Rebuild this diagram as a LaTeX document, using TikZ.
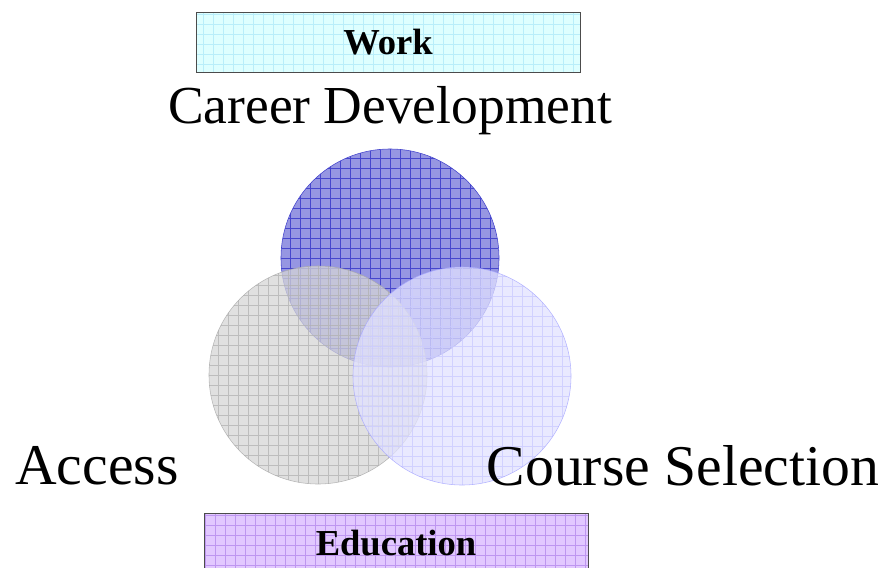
\documentclass[tikz,border=0pt]{standalone}
\usepackage{fontspec}
\setmainfont{Liberation Serif}
\definecolor{workfill}{RGB}{222,255,255}
\definecolor{workgrid}{RGB}{185,238,250}
\definecolor{edufill}{RGB}{226,200,255}
\definecolor{edugrid}{RGB}{190,150,240}
\definecolor{careerfill}{RGB}{150,150,226}
\definecolor{careergrid}{RGB}{70,70,205}
\definecolor{accessfill}{RGB}{214,214,214}
\definecolor{accessgrid}{RGB}{178,178,178}
\definecolor{coursefill}{RGB}{226,226,255}
\definecolor{coursegrid}{RGB}{202,202,255}
\begin{document}
\begin{tikzpicture}[x=0.025cm,y=-0.025cm,
  ring/.style={circle,minimum size=5.45cm,inner sep=0pt},
  gridfill/.style={path picture={\draw[#1,line width=0.5pt,step=0.25cm]
    (path picture bounding box.south west) grid (path picture bounding box.north east);}},
  bigtext/.style={font=\fontsize{41}{48}\selectfont},
  tagbox/.style={draw=black!70,minimum width=9.6cm,minimum height=1.5cm,inner sep=0pt,
    font=\fontsize{26}{30}\selectfont\bfseries}]
\useasboundingbox (0,0) rectangle (886,567);

\node[tagbox,fill=workfill,gridfill=workgrid] (work) at (388,42) {Work};
\node[bigtext,font=\fontsize{38}{46}\selectfont] (career) at (390,111) {Career Development};

\node[ring,fill=careerfill,draw=careergrid,gridfill=careergrid] (c1) at (390,258) {};
\node[ring,fill=accessfill,draw=black!35,gridfill=accessgrid,opacity=0.75] (c2) at (318,375) {};
\node[ring,fill=coursefill,draw=coursegrid!80!blue,gridfill=coursegrid,opacity=0.75] (c3) at (462,376) {};

\node[bigtext] (access) at (97,466) {Access};
\node[bigtext] (course) at (683,466) {Course Selection};

\node[tagbox,fill=edufill,gridfill=edugrid] (edu) at (396,543) {Education};
\node[font=\fontsize{20}{24}\selectfont] (page) at (834,578) {4};
\end{tikzpicture}
\end{document}
